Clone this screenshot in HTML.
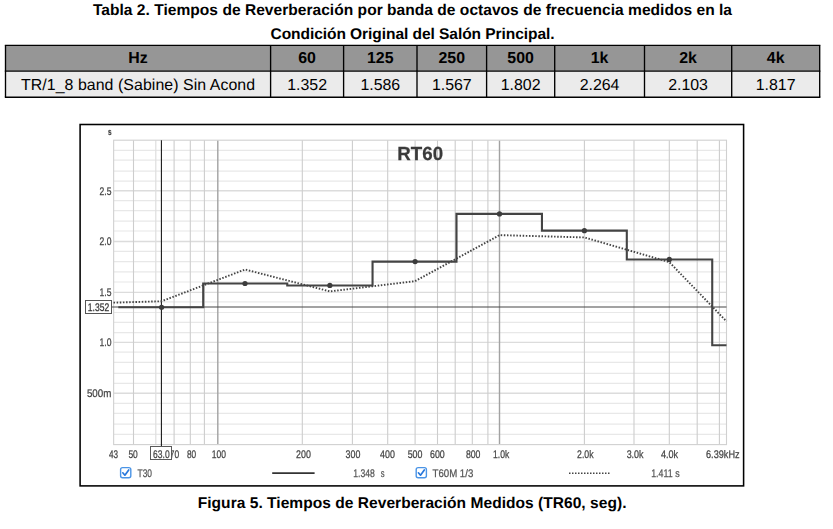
<!DOCTYPE html>
<html lang="es"><head><meta charset="utf-8"><title>Tabla 2 - RT60</title>
<style>
html,body{margin:0;padding:0;background:#fff;}
body{width:833px;height:529px;position:relative;overflow:hidden;font-family:"Liberation Sans", sans-serif;color:#000;text-rendering:geometricPrecision;}
#bg{position:absolute;left:0;top:0;}
#chart{position:absolute;left:0;top:110px;will-change:transform;}
.cap{position:absolute;left:0;width:825px;text-align:center;font-weight:bold;font-size:15.55px;line-height:20px;white-space:nowrap;margin:0;}
#tbl{position:absolute;left:5.5px;top:45px;border-collapse:collapse;table-layout:fixed;font-size:15.9px;}
#tbl td,#tbl th{padding:0;text-align:center;vertical-align:top;white-space:nowrap;overflow:visible;}
#tbl th{font-weight:bold;height:26px;line-height:28px;font-size:15.9px}
#tbl td{font-weight:normal;height:26px;line-height:26px;}
svg text{font-family:'Liberation Sans', sans-serif;text-rendering:geometricPrecision;}
</style></head><body>
<svg id="bg" width="833" height="104" viewBox="0 0 833 104">
<rect x="5.5" y="45.4" width="814.2" height="25.8" fill="#969696"/>
<rect x="5.5" y="71.15" width="814.2" height="26.0" fill="#ebebeb"/>
<g stroke="#000" stroke-width="1.35" fill="none">
<line x1="4.83" y1="45.4" x2="820.37" y2="45.4"/>
<line x1="4.83" y1="71.15" x2="820.37" y2="71.15"/>
<line x1="4.83" y1="97.2" x2="820.37" y2="97.2"/>
<line x1="5.5" y1="45.4" x2="5.5" y2="97.2"/>
<line x1="270.6" y1="45.4" x2="270.6" y2="97.2"/>
<line x1="343.6" y1="45.4" x2="343.6" y2="97.2"/>
<line x1="417.0" y1="45.4" x2="417.0" y2="97.2"/>
<line x1="486.6" y1="45.4" x2="486.6" y2="97.2"/>
<line x1="554.7" y1="45.4" x2="554.7" y2="97.2"/>
<line x1="644.5" y1="45.4" x2="644.5" y2="97.2"/>
<line x1="731.7" y1="45.4" x2="731.7" y2="97.2"/>
<line x1="819.7" y1="45.4" x2="819.7" y2="97.2"/>
</g>
</svg>
<svg id="chart" width="833" height="382" viewBox="0 110 833 382">
<rect x="80.1" y="124.5" width="663.5" height="361.4" fill="#fff" stroke="#000" stroke-width="1.55"/>
<g fill="none">
<line x1="113.65" y1="434.40" x2="726.5" y2="434.40" stroke="#e8e8e8" stroke-width="1.2"/>
<line x1="113.65" y1="424.20" x2="726.5" y2="424.20" stroke="#e8e8e8" stroke-width="1.2"/>
<line x1="113.65" y1="413.30" x2="726.5" y2="413.30" stroke="#e8e8e8" stroke-width="1.2"/>
<line x1="113.65" y1="403.35" x2="726.5" y2="403.35" stroke="#e8e8e8" stroke-width="1.2"/>
<line x1="113.65" y1="393.20" x2="726.5" y2="393.20" stroke="#dcdcdc" stroke-width="1.4"/>
<line x1="113.65" y1="383.40" x2="726.5" y2="383.40" stroke="#e8e8e8" stroke-width="1.2"/>
<line x1="113.65" y1="373.30" x2="726.5" y2="373.30" stroke="#e8e8e8" stroke-width="1.2"/>
<line x1="113.65" y1="362.40" x2="726.5" y2="362.40" stroke="#e8e8e8" stroke-width="1.2"/>
<line x1="113.65" y1="352.20" x2="726.5" y2="352.20" stroke="#e8e8e8" stroke-width="1.2"/>
<line x1="113.65" y1="342.40" x2="726.5" y2="342.40" stroke="#dcdcdc" stroke-width="1.4"/>
<line x1="113.65" y1="332.60" x2="726.5" y2="332.60" stroke="#e8e8e8" stroke-width="1.2"/>
<line x1="113.65" y1="322.30" x2="726.5" y2="322.30" stroke="#e8e8e8" stroke-width="1.2"/>
<line x1="113.65" y1="312.50" x2="726.5" y2="312.50" stroke="#e8e8e8" stroke-width="1.2"/>
<line x1="113.65" y1="301.90" x2="726.5" y2="301.90" stroke="#e8e8e8" stroke-width="1.2"/>
<line x1="113.65" y1="292.35" x2="726.5" y2="292.35" stroke="#dcdcdc" stroke-width="1.4"/>
<line x1="113.65" y1="282.00" x2="726.5" y2="282.00" stroke="#e8e8e8" stroke-width="1.2"/>
<line x1="113.65" y1="271.80" x2="726.5" y2="271.80" stroke="#e8e8e8" stroke-width="1.2"/>
<line x1="113.65" y1="261.65" x2="726.5" y2="261.65" stroke="#e8e8e8" stroke-width="1.2"/>
<line x1="113.65" y1="251.40" x2="726.5" y2="251.40" stroke="#e8e8e8" stroke-width="1.2"/>
<line x1="113.65" y1="241.50" x2="726.5" y2="241.50" stroke="#dcdcdc" stroke-width="1.4"/>
<line x1="113.65" y1="231.00" x2="726.5" y2="231.00" stroke="#e8e8e8" stroke-width="1.2"/>
<line x1="113.65" y1="221.10" x2="726.5" y2="221.10" stroke="#e8e8e8" stroke-width="1.2"/>
<line x1="113.65" y1="210.55" x2="726.5" y2="210.55" stroke="#e8e8e8" stroke-width="1.2"/>
<line x1="113.65" y1="200.70" x2="726.5" y2="200.70" stroke="#e8e8e8" stroke-width="1.2"/>
<line x1="113.65" y1="190.75" x2="726.5" y2="190.75" stroke="#dcdcdc" stroke-width="1.4"/>
<line x1="113.65" y1="181.10" x2="726.5" y2="181.10" stroke="#e8e8e8" stroke-width="1.2"/>
<line x1="113.65" y1="171.10" x2="726.5" y2="171.10" stroke="#e8e8e8" stroke-width="1.2"/>
<line x1="113.65" y1="160.20" x2="726.5" y2="160.20" stroke="#e8e8e8" stroke-width="1.2"/>
<line x1="113.65" y1="150.40" x2="726.5" y2="150.40" stroke="#e8e8e8" stroke-width="1.2"/>
<line x1="133.50" y1="140.2" x2="133.50" y2="444.6" stroke="#cdcdcd" stroke-width="1.1"/>
<line x1="155.80" y1="140.2" x2="155.80" y2="444.6" stroke="#dedede" stroke-width="1.2"/>
<line x1="174.10" y1="140.2" x2="174.10" y2="444.6" stroke="#cdcdcd" stroke-width="1.1"/>
<line x1="190.30" y1="140.2" x2="190.30" y2="444.6" stroke="#cdcdcd" stroke-width="1.1"/>
<line x1="204.40" y1="140.2" x2="204.40" y2="444.6" stroke="#cdcdcd" stroke-width="1.1"/>
<line x1="217.80" y1="140.2" x2="217.80" y2="444.6" stroke="#a2a2a2" stroke-width="1.4"/>
<line x1="302.30" y1="140.2" x2="302.30" y2="444.6" stroke="#cdcdcd" stroke-width="1.1"/>
<line x1="352.40" y1="140.2" x2="352.40" y2="444.6" stroke="#cdcdcd" stroke-width="1.1"/>
<line x1="387.70" y1="140.2" x2="387.70" y2="444.6" stroke="#cdcdcd" stroke-width="1.1"/>
<line x1="415.10" y1="140.2" x2="415.10" y2="444.6" stroke="#cdcdcd" stroke-width="1.1"/>
<line x1="437.50" y1="140.2" x2="437.50" y2="444.6" stroke="#cdcdcd" stroke-width="1.1"/>
<line x1="455.20" y1="140.2" x2="455.20" y2="444.6" stroke="#cdcdcd" stroke-width="1.1"/>
<line x1="472.30" y1="140.2" x2="472.30" y2="444.6" stroke="#cdcdcd" stroke-width="1.1"/>
<line x1="487.90" y1="140.2" x2="487.90" y2="444.6" stroke="#cdcdcd" stroke-width="1.1"/>
<line x1="499.50" y1="140.2" x2="499.50" y2="444.6" stroke="#a2a2a2" stroke-width="1.4"/>
<line x1="584.40" y1="140.2" x2="584.40" y2="444.6" stroke="#cdcdcd" stroke-width="1.1"/>
<line x1="634.00" y1="140.2" x2="634.00" y2="444.6" stroke="#cdcdcd" stroke-width="1.1"/>
<line x1="669.30" y1="140.2" x2="669.30" y2="444.6" stroke="#cdcdcd" stroke-width="1.1"/>
<line x1="697.20" y1="140.2" x2="697.20" y2="444.6" stroke="#cdcdcd" stroke-width="1.1"/>
<line x1="719.40" y1="140.2" x2="719.40" y2="444.6" stroke="#cdcdcd" stroke-width="1.1"/>
<rect x="113.65" y="140.2" width="612.85" height="304.40" stroke="#d0d0d0" stroke-width="1.1"/>
</g>
<line x1="111.8" y1="307.0" x2="726.5" y2="307.0" stroke="#464646" stroke-width="1.15"/>
<line x1="161.4" y1="140.2" x2="161.4" y2="446.5" stroke="#111" stroke-width="1.05"/>
<path d="M113.51 302.67 L161.59 301.25 L245.00 269.50 L329.87 291.41 L415.10 281.17 L499.50 235.11 L584.40 237.44 L669.30 262.09 L726.46 321.34" fill="none" stroke="#444" stroke-width="1.9" stroke-dasharray="1.5 1.64"/>
<path d="M118.31 307.24 L203.20 307.24 L203.20 283.50 L287.25 283.50 L287.25 285.43 L372.55 285.43 L372.55 261.59 L456.49 261.59 L456.49 213.91 L541.95 213.91 L541.95 230.64 L626.80 230.64 L626.80 259.46 L712.23 259.46 L712.23 345.18 L726.50 345.18" fill="none" stroke="#444" stroke-width="2.1" stroke-linejoin="miter"/>
<circle cx="161.59" cy="307.24" r="2.6" fill="#3c3c3c"/>
<circle cx="245.00" cy="283.50" r="2.6" fill="#3c3c3c"/>
<circle cx="329.87" cy="285.43" r="2.6" fill="#3c3c3c"/>
<circle cx="415.10" cy="261.59" r="2.6" fill="#3c3c3c"/>
<circle cx="499.50" cy="213.91" r="2.6" fill="#3c3c3c"/>
<circle cx="584.40" cy="230.64" r="2.6" fill="#3c3c3c"/>
<circle cx="669.30" cy="259.46" r="2.6" fill="#3c3c3c"/>
<rect x="85.5" y="300.5" width="26" height="13" fill="#fff" stroke="#555" stroke-width="1"/>
<rect x="150.5" y="446.5" width="21" height="13" fill="#fff" stroke="#5a5a5a" stroke-width="1"/>
<text x="420.2" y="160.0" text-anchor="middle" font-size="19" fill="#3a3a3a" stroke="#3a3a3a" stroke-width="0.25" font-weight="bold" textLength="45.8" lengthAdjust="spacingAndGlyphs">RT60</text>
<text x="109.7" y="135.0" text-anchor="middle" font-size="9.5" fill="#444" stroke="#444" stroke-width="0.25" font-weight="bold" textLength="3.6" lengthAdjust="spacingAndGlyphs">s</text>
<text x="111.4" y="194.6" text-anchor="end" font-size="11" fill="#444" stroke="#444" stroke-width="0.25" font-weight="normal" textLength="11.9" lengthAdjust="spacingAndGlyphs">2.5</text>
<text x="111.4" y="245.3" text-anchor="end" font-size="11" fill="#444" stroke="#444" stroke-width="0.25" font-weight="normal" textLength="11.9" lengthAdjust="spacingAndGlyphs">2.0</text>
<text x="111.4" y="296.2" text-anchor="end" font-size="11" fill="#444" stroke="#444" stroke-width="0.25" font-weight="normal" textLength="11.9" lengthAdjust="spacingAndGlyphs">1.5</text>
<text x="111.4" y="346.2" text-anchor="end" font-size="11" fill="#444" stroke="#444" stroke-width="0.25" font-weight="normal" textLength="11.9" lengthAdjust="spacingAndGlyphs">1.0</text>
<text x="111.4" y="397.0" text-anchor="end" font-size="11" fill="#444" stroke="#444" stroke-width="0.25" font-weight="normal" textLength="24.5" lengthAdjust="spacingAndGlyphs">500m</text>
<text x="98.5" y="311.4" text-anchor="middle" font-size="11" fill="#333" stroke="#333" stroke-width="0.25" font-weight="normal" textLength="21.4" lengthAdjust="spacingAndGlyphs">1.352</text>
<text x="113.5" y="458.0" text-anchor="middle" font-size="11" fill="#444" stroke="#444" stroke-width="0.25" font-weight="normal" textLength="9.1" lengthAdjust="spacingAndGlyphs">43</text>
<text x="133.1" y="458.0" text-anchor="middle" font-size="11" fill="#444" stroke="#444" stroke-width="0.25" font-weight="normal" textLength="9.4" lengthAdjust="spacingAndGlyphs">50</text>
<text x="174.5" y="458.0" text-anchor="middle" font-size="11" fill="#444" stroke="#444" stroke-width="0.25" font-weight="normal" textLength="9.4" lengthAdjust="spacingAndGlyphs">70</text>
<rect x="150.5" y="446.5" width="21" height="13" fill="#fff" stroke="#5a5a5a" stroke-width="1"/>
<text x="161.4" y="458.0" text-anchor="middle" font-size="11" fill="#444" stroke="#444" stroke-width="0.25" font-weight="normal" textLength="16.6" lengthAdjust="spacingAndGlyphs">63.0</text>
<text x="191.5" y="458.0" text-anchor="middle" font-size="11" fill="#444" stroke="#444" stroke-width="0.25" font-weight="normal" textLength="9.2" lengthAdjust="spacingAndGlyphs">80</text>
<text x="218.8" y="458.0" text-anchor="middle" font-size="11" fill="#444" stroke="#444" stroke-width="0.25" font-weight="normal" textLength="14.2" lengthAdjust="spacingAndGlyphs">100</text>
<text x="303.5" y="458.0" text-anchor="middle" font-size="11" fill="#444" stroke="#444" stroke-width="0.25" font-weight="normal" textLength="14.8" lengthAdjust="spacingAndGlyphs">200</text>
<text x="353.0" y="458.0" text-anchor="middle" font-size="11" fill="#444" stroke="#444" stroke-width="0.25" font-weight="normal" textLength="14.8" lengthAdjust="spacingAndGlyphs">300</text>
<text x="387.5" y="458.0" text-anchor="middle" font-size="11" fill="#444" stroke="#444" stroke-width="0.25" font-weight="normal" textLength="14.8" lengthAdjust="spacingAndGlyphs">400</text>
<text x="415.1" y="458.0" text-anchor="middle" font-size="11" fill="#444" stroke="#444" stroke-width="0.25" font-weight="normal" textLength="14.8" lengthAdjust="spacingAndGlyphs">500</text>
<text x="437.4" y="458.0" text-anchor="middle" font-size="11" fill="#444" stroke="#444" stroke-width="0.25" font-weight="normal" textLength="14.8" lengthAdjust="spacingAndGlyphs">600</text>
<text x="473.2" y="458.0" text-anchor="middle" font-size="11" fill="#444" stroke="#444" stroke-width="0.25" font-weight="normal" textLength="14.6" lengthAdjust="spacingAndGlyphs">800</text>
<text x="501.2" y="458.0" text-anchor="middle" font-size="11" fill="#444" stroke="#444" stroke-width="0.25" font-weight="normal" textLength="16.2" lengthAdjust="spacingAndGlyphs">1.0k</text>
<text x="585.3" y="458.0" text-anchor="middle" font-size="11" fill="#444" stroke="#444" stroke-width="0.25" font-weight="normal" textLength="16.5" lengthAdjust="spacingAndGlyphs">2.0k</text>
<text x="635.1" y="458.0" text-anchor="middle" font-size="11" fill="#444" stroke="#444" stroke-width="0.25" font-weight="normal" textLength="16.9" lengthAdjust="spacingAndGlyphs">3.0k</text>
<text x="669.5" y="458.0" text-anchor="middle" font-size="11" fill="#444" stroke="#444" stroke-width="0.25" font-weight="normal" textLength="17.2" lengthAdjust="spacingAndGlyphs">4.0k</text>
<text x="706.0" y="458.0" text-anchor="start" font-size="11" fill="#444" stroke="#444" stroke-width="0.25" font-weight="normal" textLength="33.6" lengthAdjust="spacingAndGlyphs">6.39kHz</text>
<rect x="120.6" y="467.6" width="10.2" height="10.2" rx="2" ry="2" fill="#fff" stroke="#4a94e6" stroke-width="1.4"/>
<path d="M122.8 472.8 L124.9 475.2 L128.7 469.9" fill="none" stroke="#2878dc" stroke-width="1.7" stroke-linecap="round" stroke-linejoin="round"/>
<text x="137.5" y="476.6" text-anchor="start" font-size="11" fill="#555" stroke="#555" stroke-width="0.25" font-weight="normal" textLength="14.5" lengthAdjust="spacingAndGlyphs">T30</text>
<line x1="272.2" y1="473.1" x2="314.6" y2="473.1" stroke="#333" stroke-width="1.8"/>
<text x="353.2" y="476.6" text-anchor="start" font-size="11" fill="#555" stroke="#555" stroke-width="0.25" font-weight="normal" textLength="21.6" lengthAdjust="spacingAndGlyphs">1.348</text>
<text x="380.8" y="476.6" text-anchor="start" font-size="11" fill="#555" stroke="#555" stroke-width="0.25" font-weight="normal" textLength="3.8" lengthAdjust="spacingAndGlyphs">s</text>
<rect x="416.20000000000005" y="467.6" width="10.2" height="10.2" rx="2" ry="2" fill="#fff" stroke="#4a94e6" stroke-width="1.4"/>
<path d="M418.40000000000003 472.8 L420.5 475.2 L424.3 469.9" fill="none" stroke="#2878dc" stroke-width="1.7" stroke-linecap="round" stroke-linejoin="round"/>
<text x="432.5" y="476.6" text-anchor="start" font-size="11" fill="#555" stroke="#555" stroke-width="0.25" font-weight="normal" textLength="40.8" lengthAdjust="spacingAndGlyphs">T60M 1/3</text>
<line x1="569.0" y1="473.2" x2="610.2" y2="473.2" stroke="#444" stroke-width="1.6" stroke-dasharray="1.5 1.5"/>
<text x="651.2" y="476.6" text-anchor="start" font-size="11" fill="#555" stroke="#555" stroke-width="0.25" font-weight="normal" textLength="28.4" lengthAdjust="spacingAndGlyphs">1.411 s</text>
</svg>
<p class="cap" style="top:1.2px;letter-spacing:0.025px">Tabla 2. Tiempos de Reverberación por banda de octavos de frecuencia medidos en la</p>
<p class="cap" style="top:24.6px;letter-spacing:-0.07px">Condición Original del Salón Principal.</p>
<table id="tbl"><colgroup>
<col style="width:265.1px">
<col style="width:73.0px">
<col style="width:73.4px">
<col style="width:69.6px">
<col style="width:68.1px">
<col style="width:89.8px">
<col style="width:87.2px">
<col style="width:88.0px">
</colgroup>
<tr><th>Hz</th><th>60</th><th>125</th><th>250</th><th>500</th><th>1k</th><th>2k</th><th>4k</th></tr>
<tr><td style="letter-spacing:0.06px">TR/1_8 band (Sabine) Sin Acond</td><td>1.352</td><td>1.586</td><td>1.567</td><td>1.802</td><td>2.264</td><td>2.103</td><td>1.817</td></tr>
</table>
<p class="cap" style="top:493.5px;letter-spacing:0.025px;left:-0.4px">Figura 5. Tiempos de Reverberación Medidos (TR60, seg).</p>
</body></html>
